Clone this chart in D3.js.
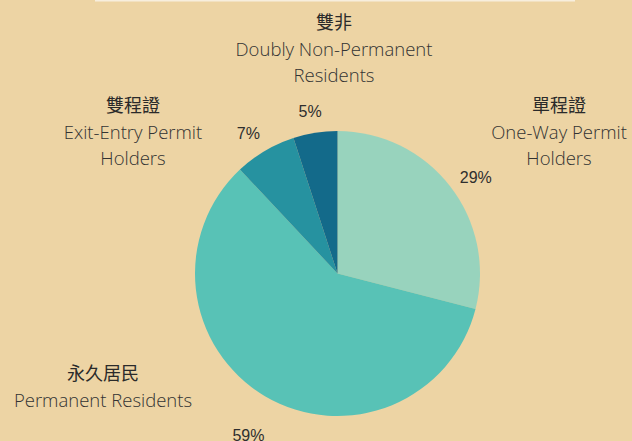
<!DOCTYPE html>
<meta charset="utf-8">
<script src="https://d3js.org/d3.v7.min.js"></script>
<style>
  body { margin: 0; background: #edd4a4; }
  svg { display: block; }
  .pct { font-family: "Liberation Sans", Arial, sans-serif; font-size: 16px; fill: #2e2e2e; }
  .zh { font-family: "Noto Sans CJK TC", sans-serif; font-size: 18px; font-weight: 400; fill: #2a2a2a; }
  .en { font-family: "Open Sans", sans-serif; font-size: 18.5px; font-weight: 300; fill: #333; }
</style>
<body>
<svg width="632" height="441"></svg>
<script>
  // slices, clockwise from 12 o'clock
  var names   = ['One-Way', 'Permanent', 'Exit-Entry', 'Doubly'];
  var values  = [29, 59, 7, 5];
  var colors  = ['#98d3bd', '#58c2b6', '#2692a0', '#136a8a'];
  var zhLabels = ['單程證', '永久居民', '雙程證', '雙非'];
  var enLabels = [
    ['One-Way Permit', 'Holders'],
    ['Permanent Residents'],
    ['Exit-Entry Permit', 'Holders'],
    ['Doubly Non-Permanent', 'Residents']
  ];

  var width = 632, height = 441,
    cx = 337.5, cy = 273.5,
    radius = 142.5;

  var svg = d3.select('svg');

  svg.append('rect')
    .attr('width', width)
    .attr('height', height)
    .attr('fill', '#edd4a4');

  // thin light strip along the top edge
  svg.append('rect')
    .attr('x', 95).attr('y', 0)
    .attr('width', 480).attr('height', 1.5)
    .attr('fill', '#f7eedd');

  var data = names.map(function(n, i){
    return {name: n, value: values[i], color: colors[i], zh: zhLabels[i], en: enLabels[i]};
  });

  var pie = d3.pie().sort(null).value(function(d){ return d.value; });
  var arc = d3.arc().innerRadius(0).outerRadius(radius);
  var labelArc = d3.arc().innerRadius(175).outerRadius(175);

  var g = svg.append('g').attr('transform', 'translate(' + cx + ',' + cy + ')');
  var arcs = pie(data);

  g.selectAll('path.slice')
    .data(arcs)
    .enter()
    .append('path')
    .attr('class', 'slice')
    .attr('fill', function(d){ return d.data.color; })
    .attr('d', arc);

  /* ----------- percent labels ----------- */
  g.selectAll('text.pct')
    .data(arcs)
    .enter()
    .append('text')
    .attr('class', 'pct')
    .attr('text-anchor', 'middle')
    .attr('dy', 16.5)
    .attr('transform', function(d){
      return 'translate(' + labelArc.centroid(d) + ')';
    })
    .text(function(d){ return d.data.value + '%'; });

  /* ----------- category titles ----------- */
  var titlePos = {
    'One-Way':    [559, 112],
    'Permanent':  [103, 380],
    'Exit-Entry': [133, 112],
    'Doubly':     [334, 29]
  };

  var titles = svg.selectAll('g.title')
    .data(data)
    .enter()
    .append('g')
    .attr('class', 'title')
    .attr('transform', function(d){ return 'translate(' + titlePos[d.name] + ')'; });

  titles.append('text')
    .attr('class', 'zh')
    .attr('text-anchor', 'middle')
    .text(function(d){ return d.zh; });

  titles.each(function(d){
    var t = d3.select(this);
    d.en.forEach(function(line, i){
      t.append('text')
        .attr('class', 'en')
        .attr('text-anchor', 'middle')
        .attr('y', 27 + i * 26)
        .text(line);
    });
  });
</script>
</body>
